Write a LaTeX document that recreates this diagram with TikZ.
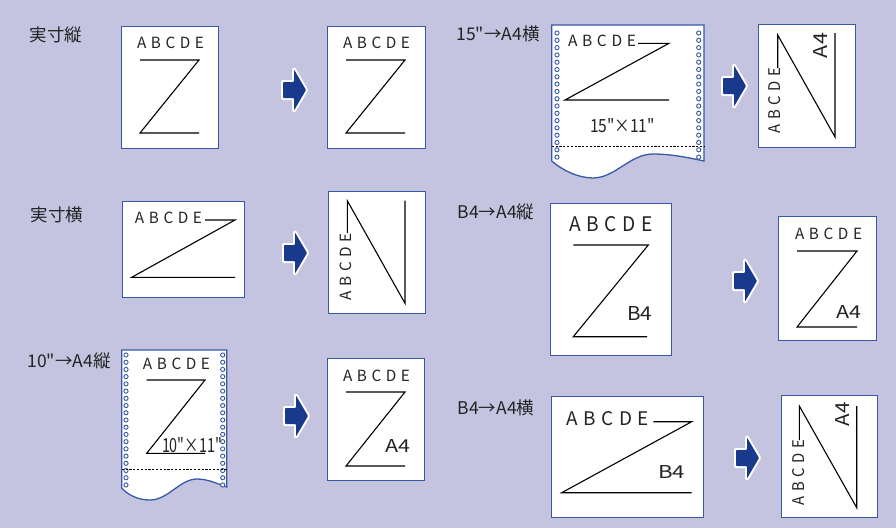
\documentclass[tikz,border=0pt]{standalone}
\usepackage{fontspec}
\usepackage{graphicx}
\setmainfont{Noto Sans CJK JP}[Ligatures=TeXOff]
\definecolor{bg}{RGB}{196,196,224}
\definecolor{pageblue}{RGB}{55,88,165}
\definecolor{arrowblue}{RGB}{25,58,140}
\definecolor{ink}{RGB}{35,35,35}
\newcommand\abcde{A\kern.3em B\kern.3em C\kern.3em D\kern.3em E}
\newcommand\fitto[3]{\resizebox{#1pt}{#2pt}{#3}}
\begin{document}
\begin{tikzpicture}[x=1pt,y=-1pt,
  page/.style={draw=pageblue, fill=white, line width=1.3pt},
  pagebox/.style={page, inner sep=0, anchor=north west},
  zline/.style={line width=1.1pt, draw=black, line join=miter},
  hole/.style={draw=pageblue, line width=0.9pt, fill=white},
  perf/.style={draw=black, line width=0.9pt, dash pattern=on 2.2pt off 1.6pt},
  lbl/.style={font=\fontsize{17.5}{18}\selectfont, text=ink, inner sep=0},
  txt/.style={inner sep=0, text=ink},
  bigarrow/.pic={
    \path[draw=white, line width=4pt, line join=round, fill=white]
      (-23,-8) -- (-12,-8) -- (-12,-20.5) -- (0,0) -- (-12,20.5) -- (-12,8) -- (-23,8) -- cycle;
    \fill[arrowblue, rounded corners=0.8pt]
      (-23,-8) -- (-12,-8) -- (-12,-20.5) -- (0,0) -- (-12,20.5) -- (-12,8) -- (-23,8) -- cycle;
  }]
\useasboundingbox (0,0) rectangle (896,528);
\fill[bg] (0,0) rectangle (896,528);

% ---------- labels ----------
\node[lbl] (l1) at (56,35) {実寸縦};
\node[lbl] (l2) at (57,215) {実寸横};
\node[lbl] (l3) at (69,361) {10"→A4縦};
\node[lbl] (l4) at (498,34) {15"→A4横};
\node[lbl] (l5) at (496,212) {B4→A4縦};
\node[lbl] (l6) at (496,408) {B4→A4横};

% ---------- row 1 left : 実寸縦 ----------
\node[pagebox, minimum width=97, minimum height=122] (p1) at (121,26) {};
\node[txt] (t1) at (170.5,42.5) {\fitto{67}{11.5}{\abcde}};
\draw[zline] (140,60) -- (199,60) -- (140,133) -- (199,133);
\pic (a1) at (306,90) {bigarrow};
\node[pagebox, minimum width=98, minimum height=122] (p2) at (327,26) {};
\node[txt] (t2) at (376.5,42.5) {\fitto{67}{11.5}{\abcde}};
\draw[zline] (346,60) -- (405,60) -- (346,133) -- (405,133);

% ---------- row 2 left : 実寸横 ----------
\node[pagebox, minimum width=122, minimum height=96] (p3) at (122,201) {};
\node[txt] (t3) at (168.5,217.5) {\fitto{67}{11.5}{\abcde}};
\draw[zline] (205,220) -- (235,220) -- (131.7,277.3) -- (235,277.3);
\pic (a2) at (307,253) {bigarrow};
\node[pagebox, minimum width=97, minimum height=122] (p4) at (328,191) {};
\node[txt, rotate=90] (t4) at (346,266.5) {\fitto{67}{11.5}{\abcde}};
\draw[zline] (347.3,233) -- (347.3,200.7) -- (405,303.3) -- (405,200.7);

% ---------- row 3 left : 10" -> A4 縦 ----------
\draw[page] (121.7,488) -- (121.7,350) -- (226.7,350) -- (226.7,487)
  .. controls (218,484) and (208,479) .. (197,479)
  .. controls (180,479) and (168,500) .. (150,500)
  .. controls (138,500) and (128,495) .. (121.7,488) -- cycle;
\foreach \i in {0,...,18} {
  \draw[hole] (126,{355+\i*7.22}) circle (2.1);
  \draw[hole] (222.7,{355+\i*7.22}) circle (2.1);
}
\draw[perf] (121.7,469) -- (226.7,469);
\node[txt] (t5) at (176.5,364) {\fitto{67}{11.5}{\abcde}};
\draw[zline] (146.7,380) -- (205,380) -- (146.7,453.3) -- (205,453.3);
\node[txt, anchor=south] (s1) at (192,452.5) {\fitto{60}{15}{10"×11"}};
\pic (a3) at (308,416) {bigarrow};
\node[pagebox, minimum width=97, minimum height=122] (p5) at (327,358) {};
\node[txt] (t6) at (376.5,376) {\fitto{67}{11.5}{\abcde}};
\draw[zline] (346,392) -- (405,392) -- (346,466) -- (405,466);
\node[txt] (q1) at (397.5,445.5) {\fitto{25}{13}{A4}};

% ---------- row 1 right : 15" -> A4 横 ----------
\draw[page] (551.7,161) -- (551.7,25) -- (704,25) -- (704,161)
  .. controls (690,158) and (672,154) .. (653,154)
  .. controls (630,154) and (615,178) .. (593,178)
  .. controls (578,178) and (562,170) .. (551.7,161) -- cycle;
\foreach \i in {0,...,17} {
  \draw[hole] (557,{33+\i*7.3}) circle (2.1);
  \draw[hole] (698.7,{33+\i*7.3}) circle (2.1);
}
\draw[perf] (551.7,146) -- (704,146);
\node[txt] (t7) at (602,41) {\fitto{68}{11.5}{\abcde}};
\draw[zline] (638,43.3) -- (669,43.3) -- (565,100) -- (669,100);
\node[txt] (s2) at (622.5,126) {\fitto{65}{14}{15"×11"}};
\pic (a4) at (746,86) {bigarrow};
\node[pagebox, minimum width=97, minimum height=123] (p6) at (758,24) {};
\node[txt, rotate=90] (t8) at (775,100.5) {\fitto{65}{12}{\abcde}};
\draw[zline] (777.7,68) -- (777.7,35) -- (835,137) -- (835,33);
\node[txt, rotate=90] (q2) at (820,45.5) {\fitto{25}{14}{A4}};

% ---------- row 2 right : B4 -> A4 縦 ----------
\node[pagebox, minimum width=121, minimum height=152] (p7) at (550,203) {};
\node[txt] (t9) at (611,224.5) {\fitto{84}{15}{\abcde}};
\draw[zline] (573.3,245) -- (648.3,245) -- (573.3,336.7) -- (647,336.7);
\node[txt] (q3) at (639.5,313) {\fitto{25}{14}{B4}};
\pic (a5) at (757,281) {bigarrow};
\node[pagebox, minimum width=98, minimum height=124] (p8) at (778,216) {};
\node[txt] (t10) at (828.5,234) {\fitto{67}{11.5}{\abcde}};
\draw[zline] (797,251) -- (857,251) -- (797,327) -- (857,327);
\node[txt] (q4) at (848.5,312) {\fitto{25}{13}{A4}};

% ---------- row 3 right : B4 -> A4 横 ----------
\node[pagebox, minimum width=152, minimum height=121] (p9) at (551,396) {};
\node[txt] (t11) at (607.5,419) {\fitto{83}{14}{\abcde}};
\draw[zline] (653.3,421.7) -- (691.7,421.7) -- (561.7,492.7) -- (691.7,492.7);
\node[txt] (q5) at (671.5,471.5) {\fitto{27}{13}{B4}};
\pic (a6) at (759,458) {bigarrow};
\node[pagebox, minimum width=96, minimum height=122] (p10) at (781,395) {};
\node[txt, rotate=90] (t12) at (798.5,472.5) {\fitto{65}{12}{\abcde}};
\draw[zline] (799.3,440) -- (799.3,406) -- (856.7,507.7) -- (856.7,406);
\node[txt, rotate=90] (q6) at (842.5,414) {\fitto{24}{14}{A4}};
\end{tikzpicture}
\end{document}
